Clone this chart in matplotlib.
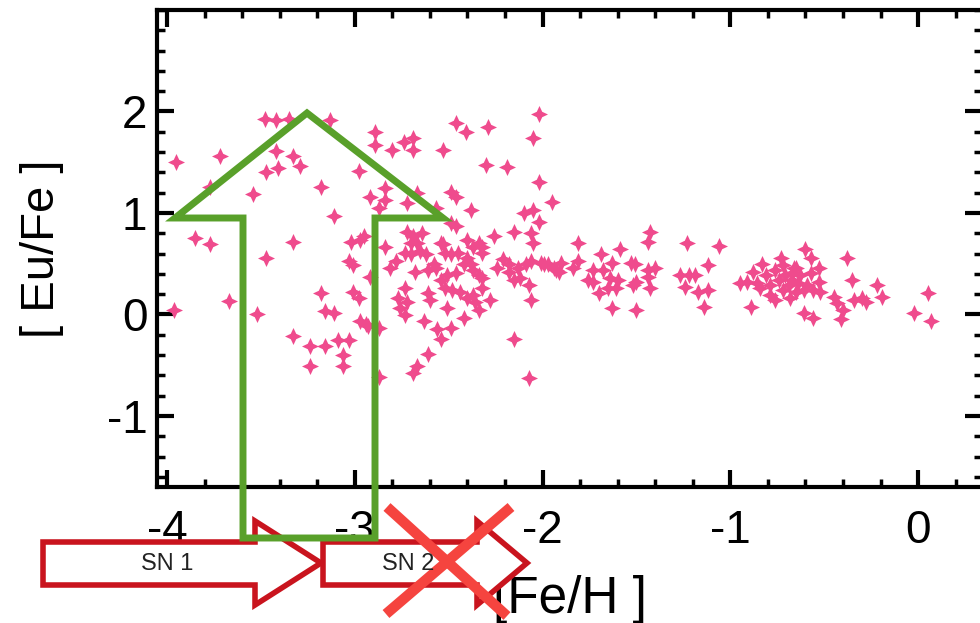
import matplotlib
matplotlib.use('Agg')
import numpy as np
import matplotlib.pyplot as plt
from matplotlib.patches import Polygon
from matplotlib.path import Path
from matplotlib.ticker import MultipleLocator

plt.rcParams['font.family'] = ['Liberation Sans', 'DejaVu Sans']
plt.rcParams['axes.unicode_minus'] = False

# [Fe/H] and [Eu/Fe] of the stars
fe_h = [
    -3.95, -3.72, -3.48, -3.42, -3.35, -3.13, -3.42, -3.33, -3.47, -3.41,
    -3.29, -3.77, -3.54, -3.18, -3.11, -2.98, -3.85, -3.77, -3.33, -3.02,
    -2.97, -2.89, -2.89, -2.80, -2.74, -2.69, -2.69, -2.53, -2.46, -2.41,
    -2.29, -2.02, -2.05, -2.30, -2.19, -2.02, -1.95, -2.92, -2.84, -2.84,
    -2.87, -2.67, -2.72, -2.49, -2.46, -2.57, -2.38, -2.10, -2.05, -2.02,
    -2.49, -2.46, -2.26, -2.15, -2.06, -2.05, -2.72, -2.69, -2.64, -2.70,
    -2.67, -2.54, -2.40, -2.34, -2.84, -2.95, -2.73, -2.70, -2.65, -2.62,
    -2.78, -2.81, -2.53, -2.52, -2.49, -2.45, -2.37, -2.32, -2.32, -2.40,
    -2.42, -2.58, -2.57, -2.61, -2.68, -2.51, -2.46, -2.38, -2.37, -2.34,
    -2.32, -2.24, -2.21, -2.18, -2.18, -2.13, -2.09, -2.06, -2.01, -1.97,
    -1.93, -2.15, -2.12, -2.54, -2.52, -2.73, -2.77, -2.72, -2.61, -2.60,
    -2.48, -2.44, -2.40, -2.37, -2.36, -2.32, -2.28, -2.07, -2.06, -2.76,
    -2.73, -2.51, -2.42, -2.34, -2.63, -2.56, -2.49, -2.54, -2.94, -2.87,
    -2.15, -2.61, -2.67, -2.69, -2.07, -2.87,
    -3.47, -3.96, -3.67, -3.52, -3.18, -3.16, -3.11, -3.03, -3.01, -3.01,
    -2.98, -2.97, -2.93, -3.33, -3.24, -3.16, -3.09, -3.03, -3.06, -3.24,
    -3.06, -2.92,
    -1.99, -1.94, -1.91, -1.90, -1.84, -1.81, -1.81, -1.69, -1.59, -1.63,
    -1.73, -1.68, -1.76, -1.73, -1.64, -1.60, -1.61, -1.65, -1.70, -1.63,
    -1.53, -1.51, -1.50, -1.52, -1.44, -1.40, -1.44, -1.43, -1.50, -1.43,
    -1.44, -1.23, -1.06, -1.12, -1.27, -1.22, -1.19, -1.24, -1.17, -1.12,
    -1.14, -0.91, -0.88, -0.86, -0.89, -0.95,
    -0.83, -0.73, -0.60, -0.57, -0.38, -0.35, -0.22, -0.19, -0.34, -0.30,
    -0.28, -0.45, -0.43, -0.40, -0.41, -0.61, -0.56, -0.53, -0.52, -0.53,
    -0.57, -0.66, -0.67, -0.81, -0.79, -0.76, -0.74, -0.72, -0.71, -0.69,
    -0.67, -0.65, -0.64, -0.63, -0.61, -0.79, -0.76, -0.68, -0.84, -0.72,
    -0.65, -0.59, -0.56, 0.05, -0.02, 0.07,
]
eu_fe = [
    1.50, 1.56, 1.93, 1.92, 1.93, 1.92, 1.61, 1.56, 1.40, 1.44,
    1.46, 1.26, 1.19, 1.26, 0.97, 1.41, 0.75, 0.69, 0.71, 0.71,
    0.73, 1.80, 1.67, 1.62, 1.70, 1.74, 1.62, 1.62, 1.89, 1.80,
    1.85, 1.98, 1.74, 1.47, 1.45, 1.31, 1.11, 1.16, 1.25, 1.13,
    1.05, 1.20, 1.10, 1.21, 1.16, 1.05, 1.03, 1.00, 1.03, 0.91,
    0.90, 0.87, 0.77, 0.81, 0.80, 0.70, 0.81, 0.77, 0.80, 0.70,
    0.70, 0.70, 0.73, 0.70, 0.66, 0.77, 0.61, 0.60, 0.63, 0.60,
    0.53, 0.46, 0.69, 0.61, 0.60, 0.61, 0.66, 0.66, 0.61, 0.56,
    0.50, 0.50, 0.46, 0.44, 0.42, 0.39, 0.41, 0.50, 0.44, 0.39,
    0.36, 0.46, 0.55, 0.50, 0.42, 0.46, 0.50, 0.53, 0.51, 0.50,
    0.44, 0.34, 0.36, 0.34, 0.26, 0.26, 0.16, 0.12, 0.21, 0.14,
    0.24, 0.22, 0.16, 0.19, 0.12, 0.26, 0.14, 0.29, 0.14, 0.06,
    -0.01, 0.06, -0.03, 0.04, -0.06, -0.14, -0.13, -0.24, -0.09, -0.13,
    -0.24, -0.39, -0.51, -0.58, -0.63, -0.62,
    0.56, 0.04, 0.13, 0.00, 0.21, 0.03, 0.01, 0.53, 0.49, 0.22,
    0.16, -0.06, -0.11, -0.21, -0.31, -0.31, -0.25, -0.25, -0.40, -0.51,
    -0.51, 0.37,
    0.50, 0.46, 0.42, 0.51, 0.46, 0.70, 0.53, 0.60, 0.65, 0.51,
    0.44, 0.44, 0.34, 0.32, 0.36, 0.34, 0.26, 0.26, 0.21, 0.06,
    0.51, 0.50, 0.32, 0.29, 0.44, 0.46, 0.37, 0.26, 0.04, 0.81,
    0.71, 0.70, 0.67, 0.49, 0.39, 0.39, 0.39, 0.27, 0.22, 0.24,
    0.07, 0.32, 0.42, 0.31, 0.07, 0.31,
    0.50, 0.56, 0.65, 0.56, 0.56, 0.34, 0.29, 0.17, 0.14, 0.16,
    0.12, 0.17, 0.11, 0.04, -0.04, 0.01, -0.03, 0.32, 0.22, 0.46,
    0.41, 0.46, 0.41, 0.39, 0.29, 0.44, 0.34, 0.24, 0.39, 0.29,
    0.34, 0.22, 0.31, 0.39, 0.24, 0.19, 0.14, 0.16, 0.26, 0.49,
    0.46, 0.29, 0.24, 0.21, 0.01, -0.06,
]

# hand-drawn overlay shapes, in picture pixels (x right, y down)
up_arrow = [(243, 538), (243, 218), (175, 218), (307, 113), (443, 218),
            (375, 218), (375, 538)]
sn1_arrow = [(43, 542), (255, 542), (255, 521), (321, 563), (255, 605),
             (255, 585), (43, 585)]
sn2_arrow = [(323, 542), (477, 542), (477, 521), (527, 563), (477, 605),
             (477, 585), (323, 585)]
sn_labels = [('SN 1', 167, 564), ('SN 2', 408, 564)]
cross = [[(387, 507), (507, 616)], [(511, 507), (386, 614)]]

# fat four-pointed star marker
ang = np.deg2rad(np.arange(0, 360, 45) + 90)
rad = np.tile([1.0, 0.45], 4)
star = Path(np.column_stack([rad * np.cos(ang), rad * np.sin(ang)]))

fig = plt.figure(figsize=(9.8, 6.23), dpi=100)
ax = fig.add_axes([157 / 980, 136 / 623, 825 / 980, 477 / 623])

ax.scatter(fe_h, eu_fe, marker=star, s=150, color='#EF4B8D',
           linewidths=0, zorder=3)

ax.set_xlim(-4.053, 0.34)
ax.set_ylim(-1.7, 3.0)
ax.xaxis.set_major_locator(MultipleLocator(1))
ax.xaxis.set_minor_locator(MultipleLocator(0.2))
ax.yaxis.set_minor_locator(MultipleLocator(0.2))
ax.set_yticks([-1, 0, 1, 2])

for s in ax.spines.values():
    s.set_linewidth(3)
ax.tick_params(which='both', direction='in', top=True, right=True)
ax.tick_params(which='major', length=12, width=3, labelsize=33)
ax.tick_params(which='minor', length=6, width=2.5)
ax.tick_params(axis='x', which='major', pad=16)
ax.tick_params(axis='y', which='major', pad=7)

ax.set_xlabel('[Fe/H ]', fontsize=37)
ax.set_ylabel('[ Eu/Fe ]', fontsize=34)
ax.xaxis.set_label_coords(0.5, -0.235)
ax.xaxis.label.set_va('center')
ax.yaxis.set_label_coords(-0.139, 0.5)
ax.yaxis.label.set_va('center')

# overlay in pixel coordinates
ov = fig.add_axes([0, 0, 1, 1], zorder=10)
ov.set_xlim(0, 980)
ov.set_ylim(623, 0)
ov.axis('off')
ov.patch.set_alpha(0)

red = '#C9141E'
for pts in [sn1_arrow, sn2_arrow]:
    ov.add_patch(Polygon(pts, closed=True, facecolor='white', edgecolor=red,
                         linewidth=4, joinstyle='miter'))
for lab, x, y in sn_labels:
    ov.text(x, y, lab, fontsize=17, color='#222222', ha='center', va='center')

ov.add_patch(Polygon(up_arrow, closed=True, fill=False, edgecolor='#59A02A',
                     linewidth=5, joinstyle='miter'))

for (x0, y0), (x1, y1) in cross:
    ov.plot([x0, x1], [y0, y1], color='#F5443F', linewidth=7.5,
            solid_capstyle='butt')

fig.savefig('out.png', dpi=100)
